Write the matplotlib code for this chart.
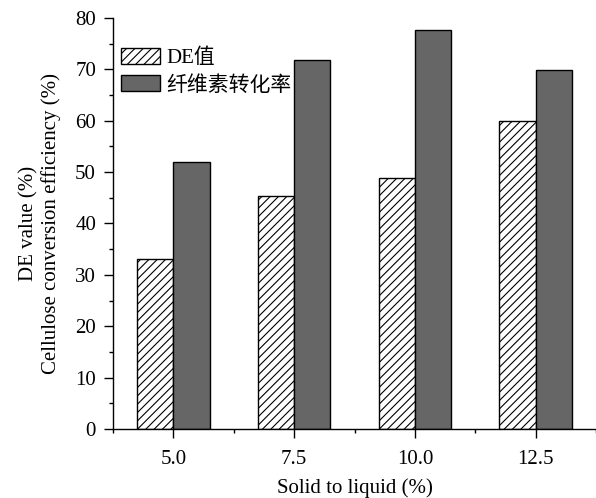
import matplotlib
matplotlib.use("Agg")
import matplotlib.pyplot as plt
import numpy as np
from matplotlib.ticker import MultipleLocator, FixedLocator

# Data
ratios = ["5.0", "7.5", "10.0", "12.5"]
de_value = [33.1, 45.3, 48.9, 59.9]
cellulose_conv = [52.0, 71.9, 77.7, 69.9]
series_labels = ["DE值", "纤维素转化率"]

plt.rcParams["font.family"] = ["Liberation Serif", "Noto Sans CJK SC"]
plt.rcParams["hatch.linewidth"] = 0.8
plt.rcParams["hatch.color"] = "black"

FS = 15

fig = plt.figure(figsize=(5.96, 4.98), dpi=100)
ax = fig.add_axes([0.1896, 0.1386, 0.8104, 0.8253])

x = np.arange(len(ratios))
w = 0.3
ax.bar(x - w / 2, de_value, width=w, facecolor="white", edgecolor="black",
       linewidth=1.0, hatch="////", label=series_labels[0])
ax.bar(x + w / 2, cellulose_conv, width=w, facecolor="#666666",
       edgecolor="black", linewidth=1.0, label=series_labels[1])

ax.set_xlim(-0.5, 3.5)
ax.set_ylim(0, 80)
ax.set_xticks(x)
ax.set_xticklabels(ratios)
ax.xaxis.set_minor_locator(FixedLocator([-0.5, 0.5, 1.5, 2.5, 3.5]))
ax.yaxis.set_major_locator(MultipleLocator(10))
ax.yaxis.set_minor_locator(MultipleLocator(5))

for side in ("top", "right"):
    ax.spines[side].set_visible(False)
for side in ("left", "bottom"):
    ax.spines[side].set_linewidth(1.0)

ax.tick_params(axis="both", which="major", direction="out", length=6.2,
               width=1.0, labelsize=FS)
ax.tick_params(axis="y", which="major", pad=6)
ax.tick_params(axis="x", which="major", pad=9)
ax.tick_params(axis="both", which="minor", direction="out", length=3,
               width=1.0)

ax.set_xlabel("Solid to liquid (%)", fontsize=FS, labelpad=6.5)
ax.set_ylabel("DE value (%)\nCellulose conversion efficiency (%)",
              fontsize=FS, labelpad=10, linespacing=1.2)

ax.legend(loc="upper left", bbox_to_anchor=(0.016, 0.927), frameon=False,
          fontsize=FS, handlelength=1.87, handleheight=0.8,
          handletextpad=0.3, labelspacing=0.35, borderpad=0,
          borderaxespad=0)

fig.savefig("out.png", dpi=100)
